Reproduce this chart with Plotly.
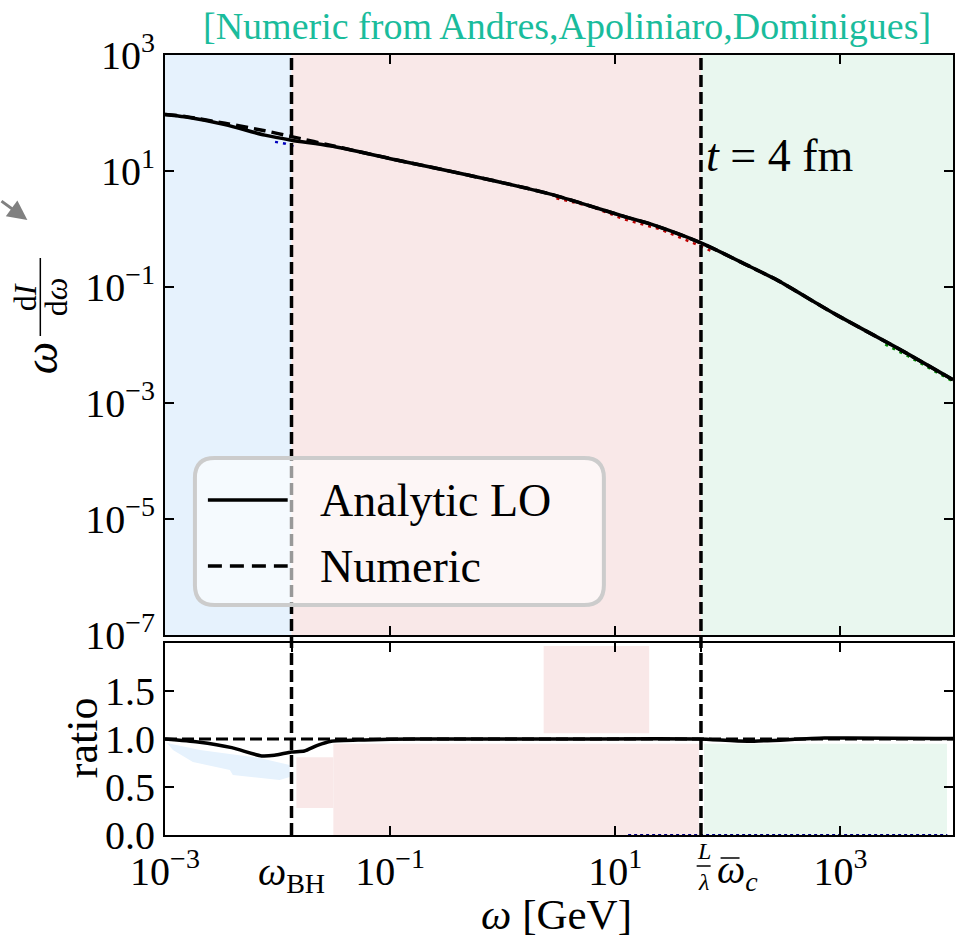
import plotly.graph_objects as go

# ---------------- data ----------------
omega = [0.001, 0.0015, 0.0034, 0.0077, 0.0133, 0.030, 0.108, 0.50, 2.55,
         13.0, 20.8, 57.7, 160, 277, 625, 940, 3190, 10000]
analytic = [94.6, 85.9, 63.1, 41.5, 34.0, 26.9, 15.8, 8.45, 4.08,
            1.57, 1.21, 0.575, 0.221, 0.130, 0.0513, 0.0324, 0.00891, 0.00251]
numeric = [94.6, 87.0, 66.5, 49.5, 39.2, 27.5, 15.9, 8.45, 4.08,
           1.57, 1.21, 0.575, 0.221, 0.130, 0.0513, 0.0324, 0.00891, 0.00251]

# faint coloured dotted remnants visible under the black curve
red_omega = [3.0, 6.0, 12.0, 25.0, 50.0, 75.0]
red_vals = [3.39, 2.47, 1.47, 0.99, 0.567, 0.40]
green_omega = [2500, 4000, 6000, 10000]
green_vals = [0.0102, 0.0064, 0.0041, 0.00235]
blue_omega = [0.0095, 0.0118, 0.0145]
blue_vals = [31.8, 29.5, 25.7]

ratio_omega = [0.001, 0.00196, 0.00392, 0.00721, 0.0094, 0.0133, 0.0173, 0.0226,
               0.030, 0.0589, 0.163, 3.13, 54.3, 150, 721, 10000]
ratio_analytic = [1.0, 0.969, 0.91, 0.823, 0.83, 0.865, 0.875, 0.934,
                  0.976, 0.99, 1.0, 1.0, 1.0, 0.976, 1.01, 1.005]
ratio_numeric_omega = [0.001, 10000]
ratio_numeric = [1.0, 1.0]

hidden_omega = [13.0, 8900]
hidden_ratio = [0.0, 0.0]

omega_bh = 0.0133
omega_c = 57.7

x_tickvals = [1e-3, omega_bh, 1e-1, 1e1, omega_c, 1e3]
x_ticktext = ["10<sup>−3</sup>", "<i>ω</i><sub>BH</sub>", "10<sup>−1</sup>",
              "10<sup>1</sup>", "", "10<sup>3</sup>"]
y_tickvals = [1e3, 1e1, 1e-1, 1e-3, 1e-5, 1e-7]
y_ticktext = ["10<sup>3</sup>", "10<sup>1</sup>", "10<sup>−1</sup>", "10<sup>−3</sup>",
              "10<sup>−5</sup>", "10<sup>−7</sup>"]
ratio_tickvals = [0.0, 0.5, 1.0, 1.5]

# ---------------- layout helpers ----------------
W, H = 962, 939
L, R, T, B = 165, 955, 55, 835  # plot area in pixels


def px(xp):
    return (xp - L) / (R - L)


def py(yp):
    return (B - yp) / (B - T)


FONT = "Liberation Serif"
BLUE = "rgb(230,242,253)"
PINK = "rgb(249,232,232)"
GREEN = "rgb(233,247,239)"

fig = go.Figure()

for xs, ys, col in [(red_omega, red_vals, "rgb(190,0,0)"),
                    (green_omega, green_vals, "rgb(0,140,0)"),
                    (blue_omega, blue_vals, "rgb(0,0,190)")]:
    fig.add_trace(go.Scatter(x=xs, y=ys, mode="lines", showlegend=False,
                             line=dict(color=col, width=2.5, dash="3px,5px"),
                             xaxis="x", yaxis="y"))

fig.add_trace(go.Scatter(x=omega, y=analytic, mode="lines", name="Analytic LO",
                         line=dict(color="black", width=3.5, shape="spline", smoothing=0.8),
                         xaxis="x", yaxis="y", showlegend=False))
fig.add_trace(go.Scatter(x=omega, y=numeric, mode="lines", name="Numeric",
                         line=dict(color="black", width=3.5, dash="12px,6px",
                                   shape="spline", smoothing=0.8),
                         xaxis="x", yaxis="y", showlegend=False))
fig.add_trace(go.Scatter(x=hidden_omega, y=hidden_ratio, mode="lines",
                         line=dict(color="navy", width=2, dash="dot"),
                         xaxis="x2", yaxis="y2", showlegend=False))
fig.add_trace(go.Scatter(x=ratio_numeric_omega, y=ratio_numeric, mode="lines",
                         line=dict(color="black", width=3, dash="12px,5px"),
                         xaxis="x2", yaxis="y2", showlegend=False))
fig.add_trace(go.Scatter(x=ratio_omega, y=ratio_analytic, mode="lines",
                         line=dict(color="black", width=3.5, shape="spline", smoothing=0.6),
                         xaxis="x2", yaxis="y2", showlegend=False))

shapes = []
for x0, x1, c in [(1e-3, omega_bh, BLUE), (omega_bh, omega_c, PINK), (omega_c, 1e4, GREEN)]:
    shapes.append(dict(type="rect", xref="x", yref="y domain", x0=x0, x1=x1, y0=0, y1=1,
                       fillcolor=c, line=dict(width=0), layer="below"))
for x0, x1, y0, y1, c in [(2.31, 20.0, 1.06, 1.97, PINK),
                          (0.0147, 0.0313, 0.28, 0.81, PINK),
                          (0.0313, 55.3, 0.0, 0.95, PINK),
                          (61.4, 8850, 0.0, 0.95, GREEN)]:
    shapes.append(dict(type="rect", xref="x2", yref="y2", x0=x0, x1=x1, y0=y0, y1=y1,
                       fillcolor=c, line=dict(width=0), layer="below"))
blob = [(167, 743), (200, 750), (260, 758), (290, 765), (290, 777), (280, 780),
        (233, 775), (230, 770), (193, 762), (173, 750)]
path = "M " + " L ".join(f"{px(a):.4f},{py(b):.4f}" for a, b in blob) + " Z"
shapes.append(dict(type="path", xref="paper", yref="paper", path=path,
                   fillcolor=BLUE, line=dict(width=0), layer="below"))
for xv in [omega_bh, omega_c]:
    shapes.append(dict(type="line", xref="x", yref="paper", x0=xv, x1=xv, y0=0, y1=1,
                       line=dict(color="black", width=3.5, dash="12px,5px")))

lx0, lx1, ly0, ly1, r = px(195), px(605), py(605), py(458), 0.025
rx = r
ry = r * (R - L) / (B - T)
legend_path = (f"M {lx0+rx},{ly0} L {lx1-rx},{ly0} Q {lx1},{ly0} {lx1},{ly0+ry} "
               f"L {lx1},{ly1-ry} Q {lx1},{ly1} {lx1-rx},{ly1} L {lx0+rx},{ly1} "
               f"Q {lx0},{ly1} {lx0},{ly1-ry} L {lx0},{ly0+ry} Q {lx0},{ly0} {lx0+rx},{ly0} Z")
shapes.append(dict(type="path", xref="paper", yref="paper", path=legend_path,
                   fillcolor="rgba(255,255,255,0.6)", line=dict(color="rgb(204,204,204)", width=4)))
shapes.append(dict(type="line", xref="paper", yref="paper", x0=px(208), x1=px(288),
                   y0=py(500), y1=py(500), line=dict(color="black", width=3.5)))
shapes.append(dict(type="line", xref="paper", yref="paper", x0=px(208), x1=px(288),
                   y0=py(566), y1=py(566), line=dict(color="black", width=3.5, dash="14px,8px")))
# fraction bar of the y label
shapes.append(dict(type="line", xref="paper", yref="paper", x0=px(40), x1=px(40),
                   y0=py(258), y1=py(336), line=dict(color="black", width=1.5)))
# fraction bar and overbar of the L/lambda tick label
shapes.append(dict(type="line", xref="paper", yref="paper", x0=px(698), x1=px(712),
                   y0=py(866), y1=py(866), line=dict(color="black", width=1.5)))
shapes.append(dict(type="line", xref="paper", yref="paper", x0=px(722), x1=px(741),
                   y0=py(858), y1=py(858), line=dict(color="black", width=1.5)))

annotations = [
    dict(text="[Numeric from Andres,Apoliniaro,Dominigues]", x=px(568), y=py(26),
         xref="paper", yref="paper", xanchor="center", yanchor="middle", showarrow=False,
         font=dict(family=FONT, size=38, color="rgb(26,188,156)")),
    dict(text="<i>t</i> = 4 fm", x=px(705), y=py(155), xref="paper", yref="paper",
         xanchor="left", yanchor="middle", showarrow=False,
         font=dict(family=FONT, size=46, color="black")),
    dict(text="Analytic LO", x=px(318), y=py(500), xref="paper", yref="paper",
         xanchor="left", yanchor="middle", showarrow=False,
         font=dict(family=FONT, size=46, color="black")),
    dict(text="Numeric", x=px(318), y=py(566), xref="paper", yref="paper",
         xanchor="left", yanchor="middle", showarrow=False,
         font=dict(family=FONT, size=46, color="black")),
    dict(text="<i>ω</i> [GeV]", x=px(557), y=py(914), xref="paper", yref="paper",
         xanchor="center", yanchor="middle", showarrow=False,
         font=dict(family=FONT, size=43, color="black")),
    dict(text="ratio", x=px(82), y=py(738), xref="paper", yref="paper", textangle=-90,
         xanchor="center", yanchor="middle", showarrow=False,
         font=dict(family=FONT, size=44, color="black")),
    dict(text="<i>ω</i>", x=px(42), y=py(358), xref="paper", yref="paper", textangle=-90,
         xanchor="center", yanchor="middle", showarrow=False,
         font=dict(family=FONT, size=46, color="black")),
    dict(text="d<i>I</i>", x=px(25), y=py(297), xref="paper", yref="paper", textangle=-90,
         xanchor="center", yanchor="middle", showarrow=False,
         font=dict(family=FONT, size=32, color="black")),
    dict(text="d<i>ω</i>", x=px(56), y=py(297), xref="paper", yref="paper", textangle=-90,
         xanchor="center", yanchor="middle", showarrow=False,
         font=dict(family=FONT, size=32, color="black")),
    # L / lambda  omega_c  tick label
    dict(text="<i>L</i>", x=px(705), y=py(866), xref="paper", yref="paper",
         xanchor="center", yanchor="bottom", showarrow=False,
         font=dict(family=FONT, size=24, color="black")),
    dict(text="<i>λ</i>", x=px(705), y=py(867), xref="paper", yref="paper",
         xanchor="center", yanchor="top", showarrow=False,
         font=dict(family=FONT, size=24, color="black")),
    dict(text="<i>ω</i><sub><i>c</i></sub>", x=px(716), y=py(872), xref="paper", yref="paper",
         xanchor="left", yanchor="middle", showarrow=False,
         font=dict(family=FONT, size=40, color="black")),
    dict(text="", x=px(27), y=py(220), ax=-36, ay=-20, xref="paper", yref="paper",
         showarrow=True, arrowhead=2, arrowsize=1.3, arrowwidth=3, arrowcolor="grey"),
]

axis_common = dict(showline=True, linecolor="black", linewidth=2, mirror="allticks",
                   ticks="inside", ticklen=9, tickwidth=2, tickcolor="black",
                   showgrid=False, zeroline=False,
                   tickfont=dict(family=FONT, size=40, color="black"))

fig.update_layout(
    width=W, height=H,
    margin=dict(l=L, r=W - R, t=T, b=H - B),
    paper_bgcolor="white", plot_bgcolor="white",
    font=dict(family=FONT),
    shapes=shapes, annotations=annotations, showlegend=False,
    xaxis=dict(type="log", range=[-3, 4], domain=[0, 1], anchor="y",
               tickvals=x_tickvals[:1] + x_tickvals[2:4] + x_tickvals[5:],
               showticklabels=False, **axis_common),
    yaxis=dict(type="log", range=[-7, 3], domain=[py(635), 1], anchor="x",
               tickvals=y_tickvals, ticktext=y_ticktext, **axis_common),
    xaxis2=dict(type="log", range=[-3, 4], domain=[0, 1], anchor="y2",
                tickvals=x_tickvals, ticktext=x_ticktext, **axis_common),
    yaxis2=dict(range=[0, 2], domain=[0, py(643)], anchor="x2",
                tickvals=ratio_tickvals, ticktext=[f"{v:.1f}" for v in ratio_tickvals],
                **axis_common),
)

fig.write_html("out.html")
